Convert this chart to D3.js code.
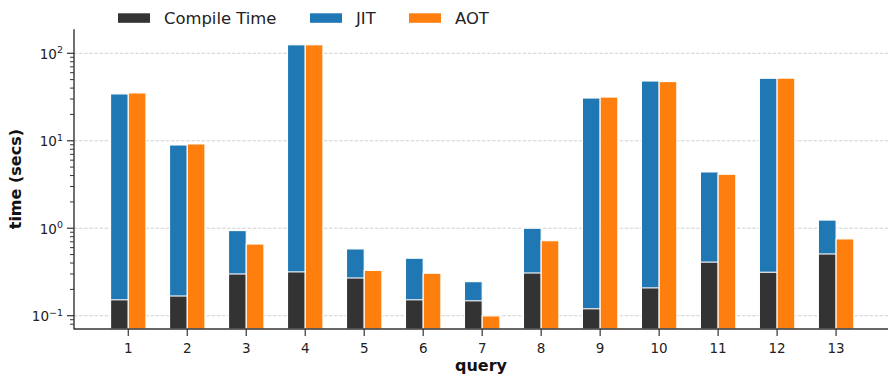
<!DOCTYPE html>
<html>
<head>
<meta charset="utf-8">
<script src="https://cdn.jsdelivr.net/npm/d3@7"></script>
<style>
  body { margin: 0; background: #fff; }
  text { font-family: "DejaVu Sans", sans-serif; }
</style>
</head>
<body>
<svg id="chart" width="890" height="378"></svg>
<script>
const queries = [1, 2, 3, 4, 5, 6, 7, 8, 9, 10, 11, 12, 13];
const jitTime = [34.3, 8.95, 0.94, 125, 0.58, 0.454, 0.245, 1.0, 30.8, 48.2, 4.40, 51.8, 1.24];
const aotTime = [35.2, 9.2, 0.66, 125, 0.33, 0.306, 0.0995, 0.72, 31.6, 47.5, 4.14, 52.0, 0.755];
const compileTime = [0.152, 0.168, 0.30, 0.317, 0.27, 0.152, 0.148, 0.308, 0.12, 0.208, 0.41, 0.314, 0.508];
const yTickValues = [0.1, 1, 10, 100];
const yTickExponents = ["\u22121", "0", "1", "2"];
const legendLabels = ["Compile Time", "JIT", "AOT"];
const colors = { compile: "#333333", jit: "#1f77b4", aot: "#ff7f0e" };

const svg = d3.select("#chart");
const mLeft = 74, mRight = 888, mTop = 29.3, mBottom = 329;

const x = d3.scaleLinear().domain([0.08, 13.88]).range([mLeft, mRight]);
const y = d3.scaleLog().domain([0.0705, 188]).range([mBottom, mTop]);
const barW = 0.3;

// grid
svg.append("g").selectAll("line").data(yTickValues).join("line")
  .attr("x1", mLeft).attr("x2", mRight)
  .attr("y1", d => y(d)).attr("y2", d => y(d))
  .attr("stroke", "#cccccc").attr("stroke-width", 0.9)
  .attr("stroke-dasharray", "3.5,1.6");

const bars = svg.append("g");
const yBase = y.range()[0];
const bw = x(barW) - x(0);
bars.selectAll("rect.jit").data(queries).join("rect").attr("class", "jit")
  .attr("x", d => x(d - barW)).attr("width", bw)
  .attr("y", (d, i) => y(jitTime[i])).attr("height", (d, i) => yBase - y(jitTime[i]))
  .attr("fill", colors.jit).attr("stroke", "#fff").attr("stroke-width", 1.1);
bars.selectAll("rect.cmp").data(queries).join("rect").attr("class", "cmp")
  .attr("x", d => x(d - barW)).attr("width", bw)
  .attr("y", (d, i) => y(compileTime[i])).attr("height", (d, i) => yBase - y(compileTime[i]))
  .attr("fill", colors.compile).attr("stroke", "#fff").attr("stroke-width", 1.1);
bars.selectAll("rect.aot").data(queries).join("rect").attr("class", "aot")
  .attr("x", d => x(d)).attr("width", bw)
  .attr("y", (d, i) => y(aotTime[i])).attr("height", (d, i) => yBase - y(aotTime[i]))
  .attr("fill", colors.aot).attr("stroke", "#fff").attr("stroke-width", 1.1);

const axisColor = "#333333";
const minor = [];
for (let e = -2; e <= 2; e++) for (let m = 2; m <= 9; m++) {
  const v = m * Math.pow(10, e);
  if (v >= y.domain()[0] && v <= y.domain()[1]) minor.push(v);
}
svg.append("g").selectAll("line").data(minor).join("line")
  .attr("x1", mLeft - 4).attr("x2", mLeft)
  .attr("y1", d => y(d)).attr("y2", d => y(d))
  .attr("stroke", axisColor).attr("stroke-width", 1);
svg.append("g").selectAll("line").data(yTickValues).join("line")
  .attr("x1", mLeft - 7).attr("x2", mLeft)
  .attr("y1", d => y(d)).attr("y2", d => y(d))
  .attr("stroke", axisColor).attr("stroke-width", 1.2);
const yl = svg.append("g").selectAll("text").data(yTickValues).join("text")
  .attr("x", mLeft - 11).attr("y", d => y(d) + 5.5)
  .attr("text-anchor", "end").attr("font-size", 13.5).attr("fill", "#222");
yl.append("tspan").text("10");
yl.append("tspan").attr("dy", -5.5).attr("font-size", 9.5).text((d, i) => yTickExponents[i]);

svg.append("g").selectAll("line").data(queries).join("line")
  .attr("x1", d => x(d)).attr("x2", d => x(d))
  .attr("y1", mBottom).attr("y2", mBottom + 7)
  .attr("stroke", axisColor).attr("stroke-width", 1.2);
svg.append("g").selectAll("text").data(queries).join("text")
  .attr("x", d => x(d)).attr("y", mBottom + 24)
  .attr("text-anchor", "middle").attr("font-size", 13.5).attr("fill", "#222")
  .text(d => d);

svg.append("line").attr("x1", mLeft).attr("x2", mLeft).attr("y1", mTop).attr("y2", mBottom + 0.6)
  .attr("stroke", axisColor).attr("stroke-width", 1.4);
svg.append("line").attr("x1", mLeft).attr("x2", mRight).attr("y1", mBottom).attr("y2", mBottom)
  .attr("stroke", axisColor).attr("stroke-width", 1.4);

svg.append("text").attr("x", (mLeft + mRight) / 2).attr("y", 370.5)
  .attr("text-anchor", "middle").attr("font-size", 16).attr("font-weight", "bold")
  .attr("fill", "#111").text("query");
svg.append("text").attr("transform", `translate(21,${(mTop + mBottom) / 2}) rotate(-90)`)
  .attr("text-anchor", "middle").attr("font-size", 16).attr("font-weight", "bold")
  .attr("fill", "#111").text("time (secs)");

const legendX = [118, 310, 409];
const lg = svg.append("g").selectAll("g").data(legendLabels).join("g")
  .attr("transform", (d, i) => `translate(${legendX[i]},0)`);
lg.append("rect").attr("x", 0).attr("y", 13.3).attr("width", 32).attr("height", 9.5)
  .attr("fill", (d, i) => [colors.compile, colors.jit, colors.aot][i]);
lg.append("text").attr("x", 46).attr("y", 23.8).attr("font-size", 16.4).attr("fill", "#222")
  .text(d => d);
</script>
</body>
</html>
